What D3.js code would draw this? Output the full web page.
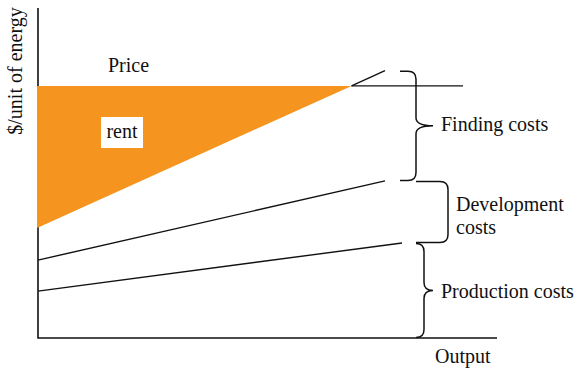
<!DOCTYPE html>
<html>
<head>
<meta charset="utf-8">
<script src="https://cdn.jsdelivr.net/npm/d3@7"></script>
<style>
  body { margin: 0; background: #fff; }
  svg text { font-family: "Liberation Serif", "Times New Roman", serif; font-size: 20px; fill: #111; }
</style>
</head>
<body>
<div id="chart"></div>
<script>
// values in chart units (output 0..100, $/unit 0..100)
const price = 76.4;
const priceEnd = 92.6;
const costLines = ["Finding", "Development", "Production"];
const lineStart = [33.3, 23.6, 14.2];
const lineEndX = [75.6, 75.6, 79.3];
const lineEndY = [81, 47.6, 28.8];
const braceLabels = [["Finding costs"], ["Development", "costs"], ["Production costs"]];
const braceTop = [81, 47.6, 28.8];
const braceBottom = [47.6, 28.8, 0];

const width = 581, height = 372;
const x = d3.scaleLinear().domain([0, 100]).range([38, 497]);
const y = d3.scaleLinear().domain([0, 100]).range([338, 8]);

const svg = d3.select("#chart").append("svg")
  .attr("width", width).attr("height", height);

/* axes */
svg.append("path")
  .attr("d", d3.line()([[x(0), y(100)], [x(0), y(0)], [x(100), y(0)]]))
  .attr("fill", "none").attr("stroke", "#111").attr("stroke-width", 1.6);

/* rent triangle: price line down to the finding cost line */
const slope = (lineEndY[0] - lineStart[0]) / lineEndX[0];
const crossX = (price - lineStart[0]) / slope;
svg.append("path")
  .attr("d", d3.line()([[x(0) - 1, y(price)], [x(crossX), y(price)], [x(0) - 1, y(lineStart[0])]]))
  .attr("fill", "#f5951f");

/* price line (only outside the rent area) */
svg.append("line")
  .attr("x1", x(crossX)).attr("x2", x(priceEnd))
  .attr("y1", y(price)).attr("y2", y(price))
  .attr("stroke", "#111").attr("stroke-width", 1.4);

/* cost lines; the finding line starts where it leaves the rent area */
const startX = [crossX, 0, 0];
svg.selectAll(".cost").data(costLines).enter().append("line")
  .attr("class", "cost")
  .attr("x1", (d, i) => x(startX[i]))
  .attr("y1", (d, i) => y(lineStart[i] + slopeOf(i) * startX[i]))
  .attr("x2", (d, i) => x(lineEndX[i])).attr("y2", (d, i) => y(lineEndY[i]))
  .attr("stroke", "#111").attr("stroke-width", 1.4);
function slopeOf(i) { return (lineEndY[i] - lineStart[i]) / lineEndX[i]; }

/* braces */
const braceX = [[400, 416, 433], [416, 448, null], [417, 424, 433]];
function brace(i) {
  const [x0, xs, xt] = braceX[i];
  const y0 = y(braceTop[i]) + 0.5, y1 = y(braceBottom[i]) - 0.5;
  const r = 8, ym = (y0 + y1) / 2;
  const p = d3.path();
  p.moveTo(x0, y0);
  p.lineTo(xs - r, y0);
  p.quadraticCurveTo(xs, y0, xs, y0 + r);
  if (xt) {
    p.lineTo(xs, ym - r);
    p.quadraticCurveTo(xs, ym, xt, ym);
    p.quadraticCurveTo(xs, ym, xs, ym + r);
  }
  p.lineTo(xs, y1 - r);
  p.quadraticCurveTo(xs, y1, xs - r, y1);
  p.lineTo(x0, y1);
  return p.toString();
}
svg.selectAll(".brace").data(braceLabels).enter().append("path")
  .attr("class", "brace")
  .attr("d", (d, i) => brace(i))
  .attr("fill", "none").attr("stroke", "#111").attr("stroke-width", 1.5);

/* brace labels */
const labelPos = [[441, 131], [456, 211], [441, 298]];
braceLabels.forEach((lines, i) => {
  const t = svg.append("text").attr("x", labelPos[i][0]).attr("y", labelPos[i][1]);
  lines.forEach((s, k) => {
    t.append("tspan").attr("x", labelPos[i][0]).attr("dy", k ? 23 : 0).text(s);
  });
});

/* text labels */
svg.append("text").attr("x", 108).attr("y", 72).text("Price");

svg.append("rect").attr("x", 101).attr("y", 117).attr("width", 42).attr("height", 31).attr("fill", "#fff");
svg.append("text").attr("x", 122).attr("y", 138).attr("text-anchor", "middle").text("rent");

svg.append("text").attr("x", 435).attr("y", 363).text("Output");

svg.append("text")
  .attr("transform", "translate(22,71) rotate(-90)")
  .attr("text-anchor", "middle")
  .text("$/unit of energy");
</script>
</body>
</html>
